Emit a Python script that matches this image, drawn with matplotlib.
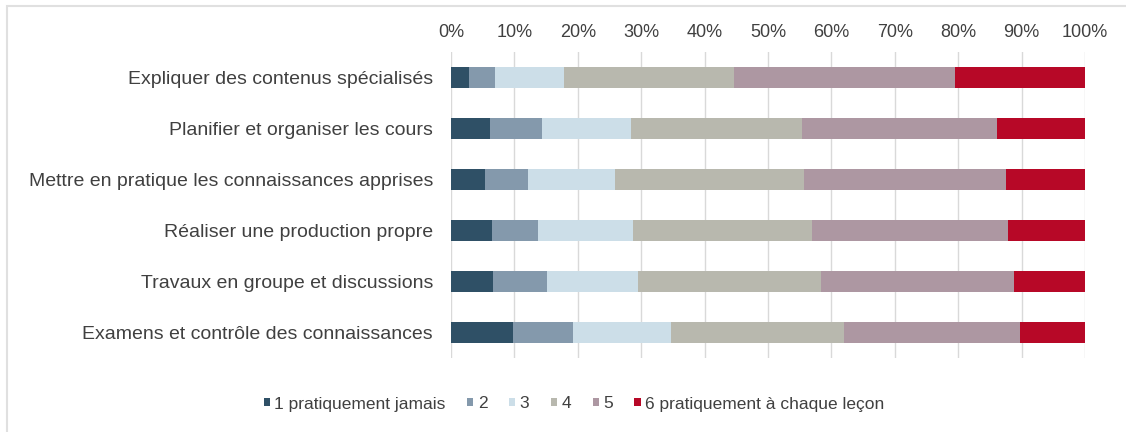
import matplotlib.pyplot as plt
from matplotlib.patches import Rectangle
from matplotlib.ticker import PercentFormatter
import numpy as np

plt.rcParams["font.family"] = ["Liberation Sans", "DejaVu Sans"]

categories = [
    "Expliquer des contenus spécialisés",
    "Planifier et organiser les cours",
    "Mettre en pratique les connaissances apprises",
    "Réaliser une production propre",
    "Travaux en groupe et discussions",
    "Examens et contrôle des connaissances",
]
series_labels = ["1 pratiquement jamais", "2", "3", "4", "5", "6 pratiquement à chaque leçon"]
s1 = [2.9, 6.1, 5.3, 6.5, 6.7, 9.8]
s2 = [4.1, 8.2, 6.9, 7.3, 8.5, 9.5]
s3 = [10.9, 14.1, 13.7, 14.9, 14.3, 15.4]
s4 = [26.8, 27.0, 29.7, 28.2, 28.8, 27.3]
s5 = [34.8, 30.7, 31.9, 31.0, 30.5, 27.8]
s6 = [20.5, 13.9, 12.5, 12.1, 11.2, 10.2]
colors = ["#2f5066", "#8499ac", "#ccdee8", "#b8b8ae", "#ad97a2", "#b70827"]

fig = plt.figure(figsize=(11.26, 4.32), dpi=100)
ax = fig.add_axes([451 / 1126, 1 - 358 / 432, 634 / 1126, 306 / 432])

y = np.arange(len(categories))
left = np.zeros(len(categories))
for vals, lab, col in zip([s1, s2, s3, s4, s5, s6], series_labels, colors):
    ax.barh(y, vals, left=left, height=0.4, color=col, label=lab, zorder=3)
    left += np.array(vals)

ax.set_xlim(0, 100)
ax.set_ylim(len(categories) - 0.5, -0.5)
ax.set_yticks(y)
ax.set_yticklabels(categories, fontsize=14, color="#404040")
ax.xaxis.tick_top()
ax.set_xticks(np.arange(0, 101, 10))
ax.xaxis.set_major_formatter(PercentFormatter(decimals=0))
ax.tick_params(axis="x", labelsize=13, colors="#404040", length=0, pad=8)
ax.tick_params(axis="y", length=0, pad=13)
ax.grid(axis="x", color="#d9d9d9", linewidth=1, zorder=0)
for sp in ax.spines.values():
    sp.set_visible(False)

fig.legend(
    loc="center",
    bbox_to_anchor=(574 / 1126, 1 - 404 / 432),
    ncol=6,
    frameon=False,
    fontsize=12.5,
    handlelength=0.35,
    handleheight=0.35,
    handletextpad=0.25,
    columnspacing=1.25,
    labelcolor="#404040",
)

# light chart border, only top and left edges are inside the picture
frame = Rectangle(
    (7 / 1126, -0.1), 1.2, 1.1 - 6 / 432,
    transform=fig.transFigure, fill=False, edgecolor="#e0e0e0", linewidth=1.5,
)
fig.patches.append(frame)

fig.savefig("out.png", dpi=100)
